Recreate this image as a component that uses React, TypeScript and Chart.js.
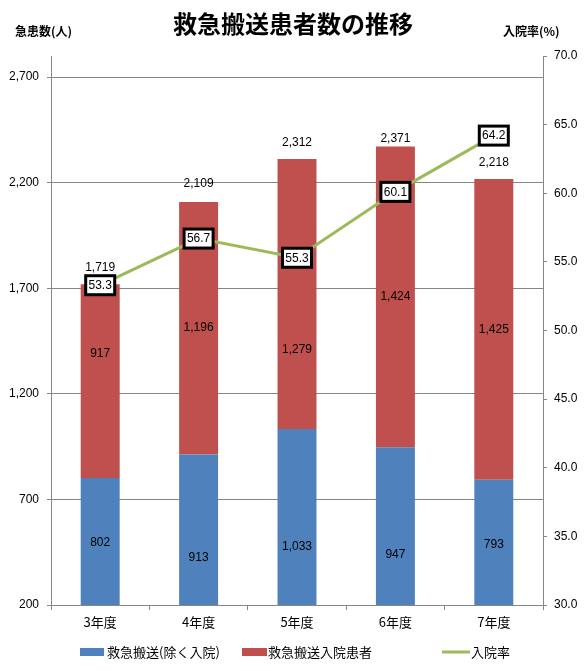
import React, { useEffect, useRef } from "react";
import { Chart, registerables } from "chart.js";

Chart.register(...registerables);

const categories = ["3年度", "4年度", "5年度", "6年度", "7年度"];
const outpatients = [802, 913, 1033, 947, 793];
const inpatients = [917, 1196, 1279, 1424, 1425];
const totals = [1719, 2109, 2312, 2371, 2218];
const admissionRate = [53.3, 56.7, 55.3, 60.1, 64.2];
const leftTicks = [200, 700, 1200, 1700, 2200, 2700];

const title = "救急搬送患者数の推移";
const leftTitle = "急患数(人)";
const rightTitle = "入院率(%)";
const seriesNames = ["救急搬送(除く入院)", "救急搬送入院患者", "入院率"];

const BLUE = "#4F81BD";
const RED = "#C0504D";
const GREEN = "#9BBB59";
const GRID = "#868686";
const NUM_FONT = '"Liberation Sans", Arial, "Noto Sans CJK JP", sans-serif';
const JP_FONT = '"Noto Sans CJK JP", "Liberation Sans", sans-serif';

// label nudges (px) as placed in the original layout
const SEG_LABEL_NUDGE = [
  [1, 28, 30, 29, 2],
  [-27, 0, 56, 0, 0],
];
const TOTAL_LABEL_GAP = [17, 18, 16, 8, 16];

const fmt = (v: number) => v.toLocaleString("en-US");

const labelsPlugin = {
  id: "customLabels",
  afterDatasetsDraw(chart: any) {
    const ctx = chart.ctx;
    const bottom = chart.chartArea.bottom;
    ctx.save();
    ctx.fillStyle = "#000";
    ctx.textAlign = "center";
    ctx.textBaseline = "middle";
    ctx.font = `12px ${NUM_FONT}`;
    [0, 1].forEach((di) => {
      const meta = chart.getDatasetMeta(di);
      const vals = di === 0 ? outpatients : inpatients;
      meta.data.forEach((bar: any, i: number) => {
        const base = Math.min(bar.base, bottom);
        const cy = (bar.y + base) / 2 + SEG_LABEL_NUDGE[di][i];
        ctx.fillText(fmt(vals[i]), bar.x, cy);
      });
    });
    const topMeta = chart.getDatasetMeta(1);
    topMeta.data.forEach((bar: any, i: number) => {
      ctx.fillText(fmt(totals[i]), bar.x, bar.y - TOTAL_LABEL_GAP[i]);
    });
    const lineMeta = chart.getDatasetMeta(2);
    lineMeta.data.forEach((pt: any, i: number) => {
      const w = 29, h = 19;
      ctx.fillStyle = "#fff";
      ctx.fillRect(pt.x - w / 2, pt.y - h / 2, w, h);
      ctx.lineWidth = 3;
      ctx.strokeStyle = "#000";
      ctx.strokeRect(pt.x - w / 2, pt.y - h / 2, w, h);
      ctx.fillStyle = "#000";
      ctx.fillText(admissionRate[i].toFixed(1), pt.x, pt.y + 0.5);
    });
    ctx.restore();
  },
  afterDraw(chart: any) {
    const ctx = chart.ctx;
    ctx.save();
    ctx.fillStyle = "#000";
    ctx.textBaseline = "middle";
    ctx.textAlign = "center";
    ctx.font = `bold 24px ${JP_FONT}`;
    ctx.fillText(title, 293, 24);
    ctx.font = `bold 12px ${JP_FONT}`;
    ctx.textAlign = "left";
    ctx.fillText(leftTitle, 15, 31);
    ctx.fillText(rightTitle, 503, 31);

    // legend
    ctx.font = `13px ${JP_FONT}`;
    const ly = 652;
    ctx.fillStyle = BLUE;
    ctx.fillRect(80, ly - 4, 24, 8);
    ctx.fillStyle = "#000";
    ctx.fillText(seriesNames[0], 107, ly);
    ctx.fillStyle = RED;
    ctx.fillRect(242, ly - 4, 25, 8);
    ctx.fillStyle = "#000";
    ctx.fillText(seriesNames[1], 268, ly);
    ctx.strokeStyle = GREEN;
    ctx.lineWidth = 3;
    ctx.beginPath();
    ctx.moveTo(442, ly);
    ctx.lineTo(470, ly);
    ctx.stroke();
    ctx.fillStyle = "#000";
    ctx.fillText(seriesNames[2], 471, ly);
    ctx.restore();
  },
};

export default function App() {
  const ref = useRef<HTMLCanvasElement | null>(null);

  useEffect(() => {
    document.body.style.margin = "0";
    const canvas = ref.current;
    if (!canvas) return;
    const chart = new Chart(canvas, {
      type: "bar",
      data: {
        labels: categories,
        datasets: [
          {
            type: "bar",
            label: seriesNames[0],
            data: outpatients,
            backgroundColor: BLUE,
            yAxisID: "y",
            stack: "s",
            order: 1,
            categoryPercentage: 1,
            barPercentage: 0.396,
          },
          {
            type: "bar",
            label: seriesNames[1],
            data: inpatients,
            backgroundColor: RED,
            yAxisID: "y",
            stack: "s",
            order: 1,
            categoryPercentage: 1,
            barPercentage: 0.396,
          },
          {
            type: "line",
            label: seriesNames[2],
            data: admissionRate,
            borderColor: GREEN,
            backgroundColor: GREEN,
            borderWidth: 3,
            pointRadius: 0,
            yAxisID: "y1",
            order: 0,
          } as any,
        ],
      },
      options: {
        animation: false,
        responsive: true,
        maintainAspectRatio: false,
        layout: { padding: { top: 56, left: 0, right: 0, bottom: 0 } },
        plugins: {
          legend: { display: false },
          title: { display: false },
          tooltip: { enabled: false },
        },
        scales: {
          x: {
            stacked: true,
            grid: {
              display: true,
              drawOnChartArea: false,
              offset: true,
              tickLength: 5,
              color: GRID,
            },
            border: { color: GRID },
            ticks: {
              color: "#000",
              font: { size: 13, family: JP_FONT },
              padding: 4,
            },
            afterFit(scale: any) {
              scale.height = 66;
            },
          },
          y: {
            stacked: true,
            position: "left",
            min: 200,
            max: 2800,
            afterBuildTicks(scale: any) {
              scale.ticks = leftTicks.map((v) => ({ value: v }));
            },
            grid: { color: GRID, tickLength: 4 },
            border: { color: GRID },
            ticks: {
              color: "#000",
              font: { size: 12, family: NUM_FONT },
              padding: 8,
              callback: (v: any) => fmt(Number(v)),
            },
            afterFit(scale: any) {
              scale.width = 51;
            },
          },
          y1: {
            position: "right",
            min: 30,
            max: 70,
            ticks: {
              stepSize: 5,
              color: "#000",
              font: { size: 12, family: NUM_FONT },
              padding: 7,
              callback: (v: any) => Number(v).toFixed(1),
            },
            grid: { drawOnChartArea: false, tickLength: 4, color: GRID },
            border: { color: GRID },
            afterFit(scale: any) {
              scale.width = 43;
            },
          },
        },
      },
      plugins: [labelsPlugin],
    });
    return () => chart.destroy();
  }, []);

  return (
    <div style={{ width: 586, height: 671, position: "relative", background: "#fff" }}>
      <canvas ref={ref} />
    </div>
  );
}
